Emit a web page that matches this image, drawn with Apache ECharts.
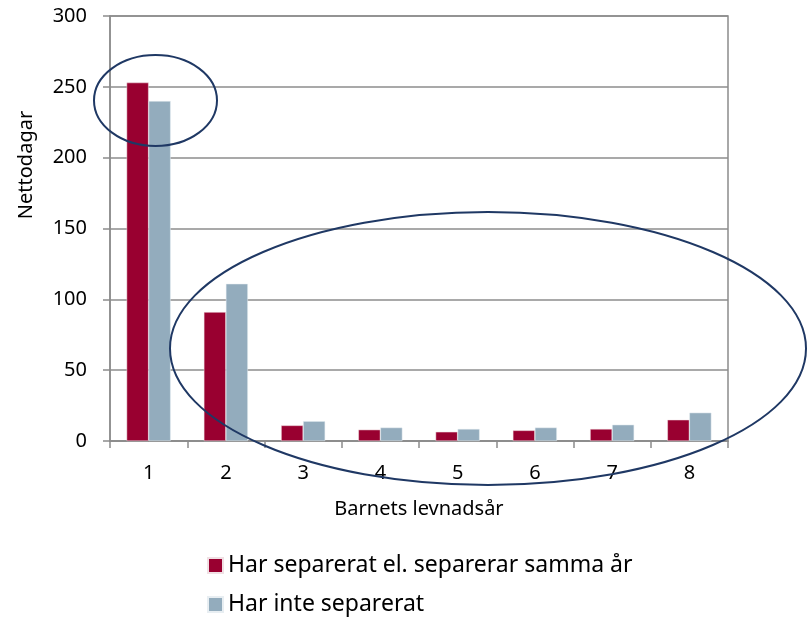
<!DOCTYPE html>
<html>
<head>
<meta charset="utf-8">
<script src="https://cdn.jsdelivr.net/npm/echarts@6/dist/echarts.min.js"></script>
<style>
html, body { margin: 0; padding: 0; background: #fff; }
#chart { width: 811px; height: 617px; }
</style>
</head>
<body>
<div id="chart"></div>
<script>
var years = ['1', '2', '3', '4', '5', '6', '7', '8'];
var separerat = [253, 91, 11, 8, 6.5, 7.5, 8.5, 15];
var inteSeparerat = [240, 111, 14, 9.5, 8.5, 9.5, 11.5, 20];
var yTicks = [0, 50, 100, 150, 200, 250, 300];

var font = 'Noto Sans';
var chart = echarts.init(document.getElementById('chart'));
var option = {
    animation: false,
    textStyle: { fontFamily: font },
    grid: {
        left: 110, right: 83, top: 16, bottom: 176,
        show: true, borderColor: '#8c8c8c', borderWidth: 1.5
    },
    legend: {
        orient: 'vertical',
        left: 207, top: 554,
        height: 63,
        padding: 0,
        itemWidth: 15, itemHeight: 15, itemGap: 16,
        icon: 'rect',
        textStyle: { fontSize: 23, color: '#000', fontFamily: font },
        data: ['Har separerat el. separerar samma år', 'Har inte separerat']
    },
    xAxis: {
        type: 'category',
        data: years,
        name: 'Barnets levnadsår',
        nameLocation: 'middle',
        nameGap: 58,
        nameTextStyle: { fontSize: 20, color: '#000' },
        axisLine: { lineStyle: { color: '#8c8c8c', width: 1.5 } },
        axisTick: { show: true, length: 7, lineStyle: { color: '#8c8c8c', width: 1.5 } },
        axisLabel: { fontSize: 20, color: '#000', margin: 22 }
    },
    yAxis: {
        type: 'value',
        min: yTicks[0], max: yTicks[yTicks.length - 1], interval: 50,
        axisLine: { show: true, lineStyle: { color: '#8c8c8c', width: 1.5 } },
        axisTick: { show: true, inside: false, length: 7, lineStyle: { color: '#8c8c8c', width: 1.5 } },
        axisLabel: { fontSize: 20, color: '#000', margin: 23 },
        splitLine: { lineStyle: { color: '#8c8c8c', width: 1.5 } }
    },
    graphic: [
        {
            type: 'text',
            x: 26, y: 165, rotation: Math.PI / 2,
            style: {
                text: 'Nettodagar', fontSize: 20, fill: '#000', fontFamily: font,
                align: 'center', verticalAlign: 'middle'
            }
        },
        {
            type: 'ellipse',
            shape: { cx: 155.5, cy: 100.5, rx: 61.5, ry: 45.5 },
            style: { fill: 'none', stroke: '#1f3864', lineWidth: 2 },
            z: 100
        },
        {
            type: 'ellipse',
            shape: { cx: 488, cy: 348.5, rx: 318, ry: 136.5 },
            style: { fill: 'none', stroke: '#1f3864', lineWidth: 2 },
            z: 100
        }
    ],
    series: [
        {
            name: 'Har separerat el. separerar samma år',
            type: 'bar',
            data: separerat,
            barGap: '0%',
            barCategoryGap: '43%',
            itemStyle: { color: '#990030', borderColor: '#f0e0e4', borderWidth: 0.5 }
        },
        {
            name: 'Har inte separerat',
            type: 'bar',
            data: inteSeparerat,
            itemStyle: { color: '#93acbd', borderColor: '#e8eef2', borderWidth: 0.5 }
        }
    ]
};
chart.setOption(option);
</script>
</body>
</html>
